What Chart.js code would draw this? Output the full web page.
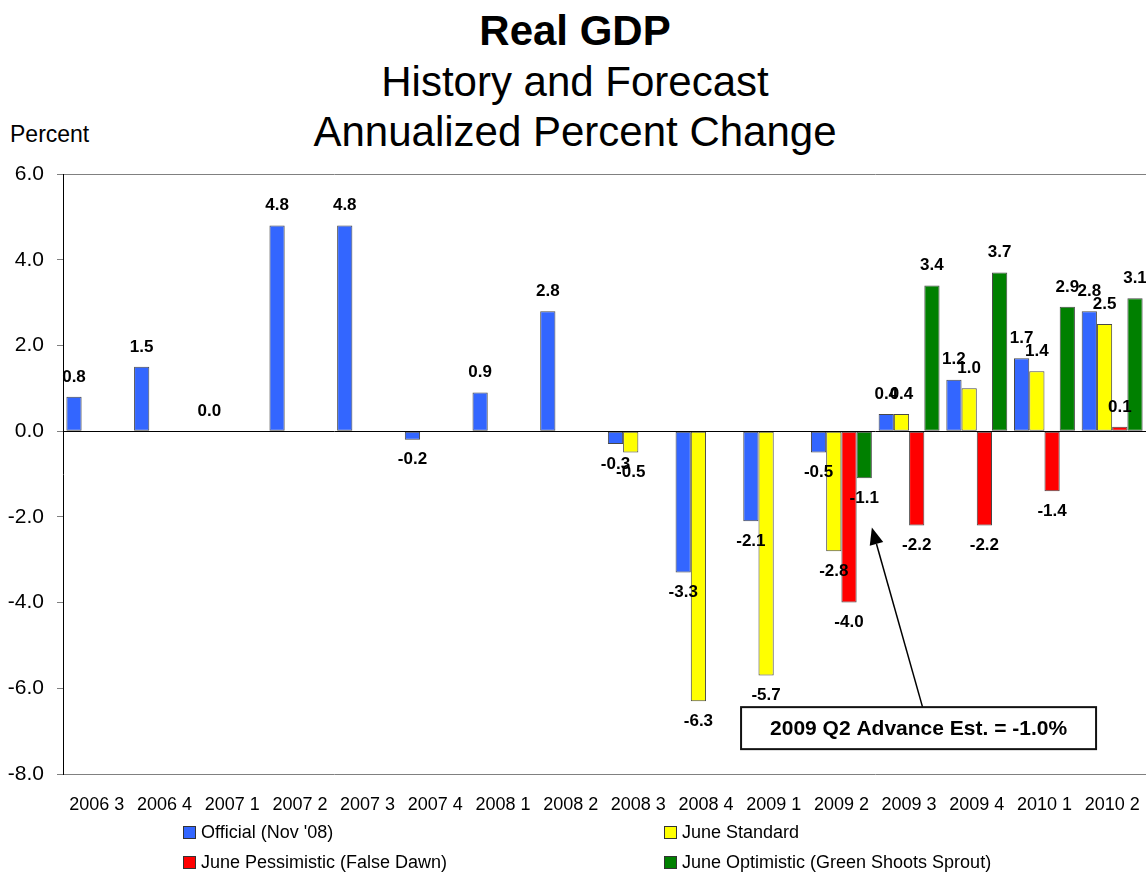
<!DOCTYPE html>
<html>
<head>
<meta charset="utf-8">
<script src="https://cdn.jsdelivr.net/npm/chart.js@4.4.0/dist/chart.umd.min.js"></script>
<style>
    html, body { margin: 0; padding: 0; background: #fff; overflow: hidden; }
    #wrap { position: relative; width: 1146px; height: 874px; font-family: Arial, "Liberation Sans", sans-serif; color: #000; }
    #gdpChart { position: absolute; left: 0; top: 0; }
    .title { position: absolute; left: 2px; width: 1146px; text-align: center; font-size: 42px; line-height: 50px; white-space: nowrap; }
    .unit { position: absolute; left: 10px; top: 119px; font-size: 23px; line-height: 30px; }
    .legend-item { position: absolute; font-size: 18px; line-height: 22px; white-space: nowrap; }
    .legend-item i { display: inline-block; width: 11px; height: 11px; border: 1px solid #333; margin-right: 5px; vertical-align: -1px; }
</style>
</head>
<body>
<div id="wrap">
    <div class="title" style="top:6px;font-weight:bold;">Real GDP</div>
    <div class="title" style="top:57px;">History and Forecast</div>
    <div class="title" style="top:107px;">Annualized Percent Change</div>
    <div class="unit">Percent</div>
    <canvas id="gdpChart" width="1146" height="874"></canvas>
    <div class="legend-item" style="left:183px;top:821px;"><i style="background:#3366ff"></i>Official (Nov '08)</div>
    <div class="legend-item" style="left:664px;top:821px;"><i style="background:#ffff00"></i>June Standard</div>
    <div class="legend-item" style="left:183px;top:851px;"><i style="background:#ff0000"></i>June Pessimistic (False Dawn)</div>
    <div class="legend-item" style="left:664px;top:851px;"><i style="background:#008000"></i>June Optimistic (Green Shoots Sprout)</div>
</div>
<script>
// Trimestres (année + trimestre)
const quarters = ['2006 3', '2006 4', '2007 1', '2007 2', '2007 3', '2007 4', '2008 1', '2008 2',
                  '2008 3', '2008 4', '2009 1', '2009 2', '2009 3', '2009 4', '2010 1', '2010 2'];

// Séries en pourcentage annualisé
const official        = [0.8, 1.5, 0.0, 4.8, 4.8, -0.2, 0.9, 2.8, -0.3, -3.3, -2.1, -0.5, 0.4, 1.2, 1.7, 2.8];
const juneStandard    = [null, null, null, null, null, null, null, null, -0.5, -6.3, -5.7, -2.8, 0.4, 1.0, 1.4, 2.5];
const junePessimistic = [null, null, null, null, null, null, null, null, null, null, null, -4.0, -2.2, -2.2, -1.4, 0.1];
const juneOptimistic  = [null, null, null, null, null, null, null, null, null, null, null, -1.1, 3.4, 3.7, 2.9, 3.1];

const yMin = -8;
const yMax = 6;
const yStep = 2;

// Note explicative (position en unités des axes)
const calloutText = '2009 Q2 Advance Est. = -1.0%';
const calloutAt = { x: 12.14, y: -6.93 };
const arrowTipValue = -2.25;

const FONT = 'Arial, "Liberation Sans", sans-serif';

// Valeurs écrites au-dessus / en dessous des barres
const valueLabels = {
    id: 'valueLabels',
    afterDatasetsDraw(chart) {
        const ctx = chart.ctx;
        ctx.save();
        ctx.font = 'bold 17px ' + FONT;
        ctx.fillStyle = '#000';
        ctx.textAlign = 'center';
        ctx.textBaseline = 'middle';
        chart.data.datasets.forEach((ds, i) => {
            chart.getDatasetMeta(i).data.forEach((bar, j) => {
                const v = ds.data[j];
                if (v === null || v === undefined) return;
                const y = v >= 0 ? bar.y - 20 : bar.y + 20;
                ctx.fillText(v.toFixed(1), bar.x, y);
            });
        });
        ctx.restore();
    }
};

// Encadré + flèche vers 2009 T2
const callout = {
    id: 'callout',
    afterDraw(chart) {
        const { ctx, scales: { x, y } } = chart;
        const bar = chart.getDatasetMeta(3).data[11];
        const tipX = bar.x + bar.width / 2;
        const tipY = y.getPixelForValue(arrowTipValue);
        const cx = x.getPixelForValue(calloutAt.x);
        const cy = y.getPixelForValue(calloutAt.y);
        const w = 355, h = 42;
        const startX = cx + 4, startY = cy - h / 2;

        ctx.save();
        // flèche
        const ang = Math.atan2(tipY - startY, tipX - startX);
        const headLen = 17, headW = 7;
        const baseX = tipX - headLen * Math.cos(ang);
        const baseY = tipY - headLen * Math.sin(ang);
        ctx.strokeStyle = '#000';
        ctx.lineWidth = 1.5;
        ctx.beginPath();
        ctx.moveTo(startX, startY);
        ctx.lineTo(baseX, baseY);
        ctx.stroke();
        ctx.fillStyle = '#000';
        ctx.beginPath();
        ctx.moveTo(tipX, tipY);
        ctx.lineTo(baseX + headW * Math.sin(ang), baseY - headW * Math.cos(ang));
        ctx.lineTo(baseX - headW * Math.sin(ang), baseY + headW * Math.cos(ang));
        ctx.closePath();
        ctx.fill();

        // encadré
        ctx.fillStyle = '#fff';
        ctx.fillRect(cx - w / 2, cy - h / 2, w, h);
        ctx.strokeStyle = '#111';
        ctx.lineWidth = 2;
        ctx.strokeRect(cx - w / 2, cy - h / 2, w, h);
        ctx.fillStyle = '#000';
        ctx.font = 'bold 21px ' + FONT;
        ctx.textAlign = 'center';
        ctx.textBaseline = 'middle';
        ctx.fillText(calloutText, cx, cy + 1);
        ctx.restore();
    }
};

const barBorder = 'rgba(40, 40, 40, 0.85)';

new Chart(document.getElementById('gdpChart'), {
    type: 'bar',
    data: {
        labels: quarters,
        datasets: [
            { label: "Official (Nov '08)", data: official, backgroundColor: '#3366ff' },
            { label: 'June Standard', data: juneStandard, backgroundColor: '#ffff00' },
            { label: 'June Pessimistic (False Dawn)', data: junePessimistic, backgroundColor: '#ff0000' },
            { label: 'June Optimistic (Green Shoots Sprout)', data: juneOptimistic, backgroundColor: '#008000' }
        ].map(ds => Object.assign(ds, {
            borderColor: barBorder,
            borderWidth: 1,
            borderSkipped: false,
            categoryPercentage: 0.9,
            barPercentage: 1.0
        }))
    },
    options: {
        responsive: false,
        animation: false,
        events: [],
        layout: { padding: { top: 174, right: 0, bottom: 0, left: 0 } },
        plugins: {
            legend: { display: false },
            tooltip: { enabled: false },
            title: { display: false }
        },
        scales: {
            x: {
                // la zone de tracé va jusqu'au bord droit, le dernier libellé peut déborder
                afterFit: scale => {
                    scale.height = 100;
                    scale.paddingLeft = 0;
                    scale.paddingRight = 0;
                },
                grid: { display: false, drawTicks: false },
                border: { display: false },
                ticks: {
                    color: '#000',
                    font: { family: FONT, size: 18 },
                    padding: 20,
                    maxRotation: 0,
                    autoSkip: false
                }
            },
            y: {
                min: yMin,
                max: yMax,
                afterFit: scale => { scale.width = 63; },
                border: { display: true, color: '#000', width: 1 },
                grid: {
                    color: ctx => {
                        const v = ctx.tick.value;
                        if (v === 0) return '#000';
                        if (v === yMin || v === yMax) return '#808080';
                        return 'rgba(0,0,0,0)';
                    },
                    lineWidth: 1,
                    tickColor: '#808080',
                    tickLength: 6
                },
                ticks: {
                    stepSize: yStep,
                    color: '#000',
                    font: { family: FONT, size: 21 },
                    padding: 13,
                    callback: v => Number(v).toFixed(1)
                }
            }
        }
    },
    plugins: [valueLabels, callout]
});
</script>
</body>
</html>
